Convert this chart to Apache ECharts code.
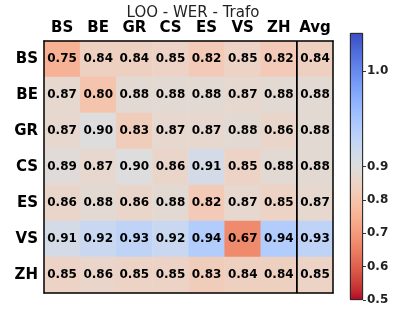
<!DOCTYPE html>
<html>
<head>
<meta charset="utf-8">
<script src="https://cdn.jsdelivr.net/npm/echarts@6/dist/echarts.min.js"></script>
<style>
  html, body { margin: 0; padding: 0; background: #fff; }
  #main { width: 393px; height: 313px; }
</style>
</head>
<body>
<div id="main"></div>
<script>
// 数据
var cols = ['BS', 'BE', 'GR', 'CS', 'ES', 'VS', 'ZH', 'Avg'];
var rows = ['BS', 'BE', 'GR', 'CS', 'ES', 'VS', 'ZH'];
var rowBS = [0.75, 0.84, 0.84, 0.85, 0.82, 0.85, 0.82, 0.84];
var rowBE = [0.87, 0.80, 0.88, 0.88, 0.88, 0.87, 0.88, 0.88];
var rowGR = [0.87, 0.90, 0.83, 0.87, 0.87, 0.88, 0.86, 0.88];
var rowCS = [0.89, 0.87, 0.90, 0.86, 0.91, 0.85, 0.88, 0.88];
var rowES = [0.86, 0.88, 0.86, 0.88, 0.82, 0.87, 0.85, 0.87];
var rowVS = [0.91, 0.92, 0.93, 0.92, 0.94, 0.67, 0.94, 0.93];
var rowZH = [0.85, 0.86, 0.85, 0.85, 0.83, 0.84, 0.84, 0.85];
var cbTicks = [0.5, 0.6, 0.7, 0.8, 0.9, 1.0];

var vmin = 0.5, vcenter = 0.9, vmax = 1.04;

// coolwarm 色表 (蓝 -> 灰 -> 红)
var coolwarm = [
  [59,76,192],[68,90,204],[77,104,215],[87,117,225],[98,130,234],[108,142,241],
  [119,154,247],[130,165,251],[141,176,254],[152,185,255],[163,194,255],[174,201,253],
  [184,208,249],[194,213,244],[204,217,238],[213,219,230],[221,221,221],[229,216,209],
  [236,211,197],[241,204,185],[245,196,173],[247,187,160],[247,177,148],[247,166,135],
  [244,154,123],[241,141,111],[236,127,99],[229,112,88],[222,96,77],[213,80,66],
  [203,62,56],[192,40,47],[180,4,38]
];
function rgb(c) { return 'rgb(' + c[0] + ',' + c[1] + ',' + c[2] + ')'; }

// 两段线性归一化
function norm(v) {
  if (v <= vcenter) return 0.5 * (v - vmin) / (vcenter - vmin);
  return 0.5 + 0.5 * (v - vcenter) / (vmax - vcenter);
}

var matrix = [rowBS, rowBE, rowGR, rowCS, rowES, rowVS, rowZH];
var data = [];
matrix.forEach(function (r, i) {
  r.forEach(function (v, j) {
    data.push([j, i, v, norm(v)]);
  });
});

var stops = coolwarm.map(function (c, i) {
  return { offset: i / (coolwarm.length - 1), color: rgb(c) };
});
var rangeColors = coolwarm.slice().reverse().map(rgb);

var font = 'DejaVu Sans';
var chart = echarts.init(document.getElementById('main'));
var option = {
  backgroundColor: '#fff',
  animation: false,
  title: {
    text: 'LOO - WER - Trafo',
    left: 188, top: 1, textAlign: 'center',
    textStyle: { fontFamily: font, fontSize: 15, fontWeight: 'normal', color: '#222' }
  },
  grid: [
    { left: 44, top: 41, width: 289, height: 252 },
    { left: 350, top: 33, width: 13, height: 267 }
  ],
  visualMap: {
    show: false, type: 'continuous', dimension: 3, seriesIndex: 0,
    min: 0, max: 1, inRange: { color: rangeColors }
  },
  xAxis: [
    {
      type: 'category', data: cols, position: 'top', gridIndex: 0, z: 10,
      axisLine: { lineStyle: { color: '#000', width: 1.5 } },
      axisTick: { alignWithLabel: true, length: 3, lineStyle: { color: '#000' } },
      axisLabel: { interval: 0, fontFamily: font, fontSize: 15, fontWeight: 'bold', color: '#000', margin: 5 }
    },
    {
      type: 'category', data: cols, position: 'bottom', gridIndex: 0, z: 10,
      axisLine: { lineStyle: { color: '#000', width: 1.5 } },
      axisTick: { alignWithLabel: true, interval: 0, length: 3, lineStyle: { color: '#000' } },
      axisLabel: { show: false }
    },
    {
      type: 'category', data: ['c'], gridIndex: 1, show: false
    }
  ],
  yAxis: [
    {
      type: 'category', data: rows, inverse: true, gridIndex: 0, z: 10,
      axisLine: { lineStyle: { color: '#000', width: 1.5 } },
      axisTick: { alignWithLabel: true, interval: 0, length: 3, lineStyle: { color: '#000' } },
      axisLabel: { interval: 0, fontFamily: font, fontSize: 15, fontWeight: 'bold', color: '#000', margin: 6 }
    },
    {
      type: 'category', data: rows, inverse: true, gridIndex: 0, position: 'right', z: 10,
      axisLine: { lineStyle: { color: '#000', width: 1.5 } },
      axisTick: { show: false },
      axisLabel: { show: false }
    },
    {
      type: 'value', gridIndex: 1, min: 0, max: 1, position: 'right',
      splitLine: { show: false },
      axisLine: { show: false },
      axisTick: {
        show: true, length: 3, customValues: cbTicks.map(norm),
        lineStyle: { color: '#333' }
      },
      axisLabel: {
        customValues: cbTicks.map(norm), margin: 4,
        fontFamily: font, fontSize: 12, fontWeight: 'bold', color: '#222',
        formatter: function (val) {
          for (var i = 0; i < cbTicks.length; i++) {
            if (Math.abs(norm(cbTicks[i]) - val) < 1e-6) return cbTicks[i].toFixed(1);
          }
          return '';
        }
      }
    }
  ],
  series: [
    {
      type: 'heatmap', xAxisIndex: 0, yAxisIndex: 0, data: data,
      label: {
        show: true, fontFamily: font, fontSize: 12, fontWeight: 'bold', color: '#000',
        formatter: function (p) { return p.value[2].toFixed(2); }
      },
      emphasis: { disabled: true }
    },
    {
      type: 'bar', xAxisIndex: 2, yAxisIndex: 2, data: [1], barWidth: '100%',
      itemStyle: {
        color: new echarts.graphic.LinearGradient(0, 0, 0, 1, stops),
        borderColor: '#222', borderWidth: 0.8
      },
      silent: true
    }
  ]
};
chart.setOption(option);

// Avg 列前的分隔线
var pZH = chart.convertToPixel({ xAxisIndex: 0, yAxisIndex: 0 }, [6, 0]);
var pAvg = chart.convertToPixel({ xAxisIndex: 0, yAxisIndex: 0 }, [7, 6]);
var half = (pAvg[1] - pZH[1]) / 12;
var xSep = (pZH[0] + pAvg[0]) / 2;
chart.setOption({
  graphic: [{
    type: 'line', z: 100,
    shape: { x1: xSep, y1: pZH[1] - half, x2: xSep, y2: pAvg[1] + half },
    style: { stroke: '#000', lineWidth: 1.8 }
  }]
});
</script>
</body>
</html>
